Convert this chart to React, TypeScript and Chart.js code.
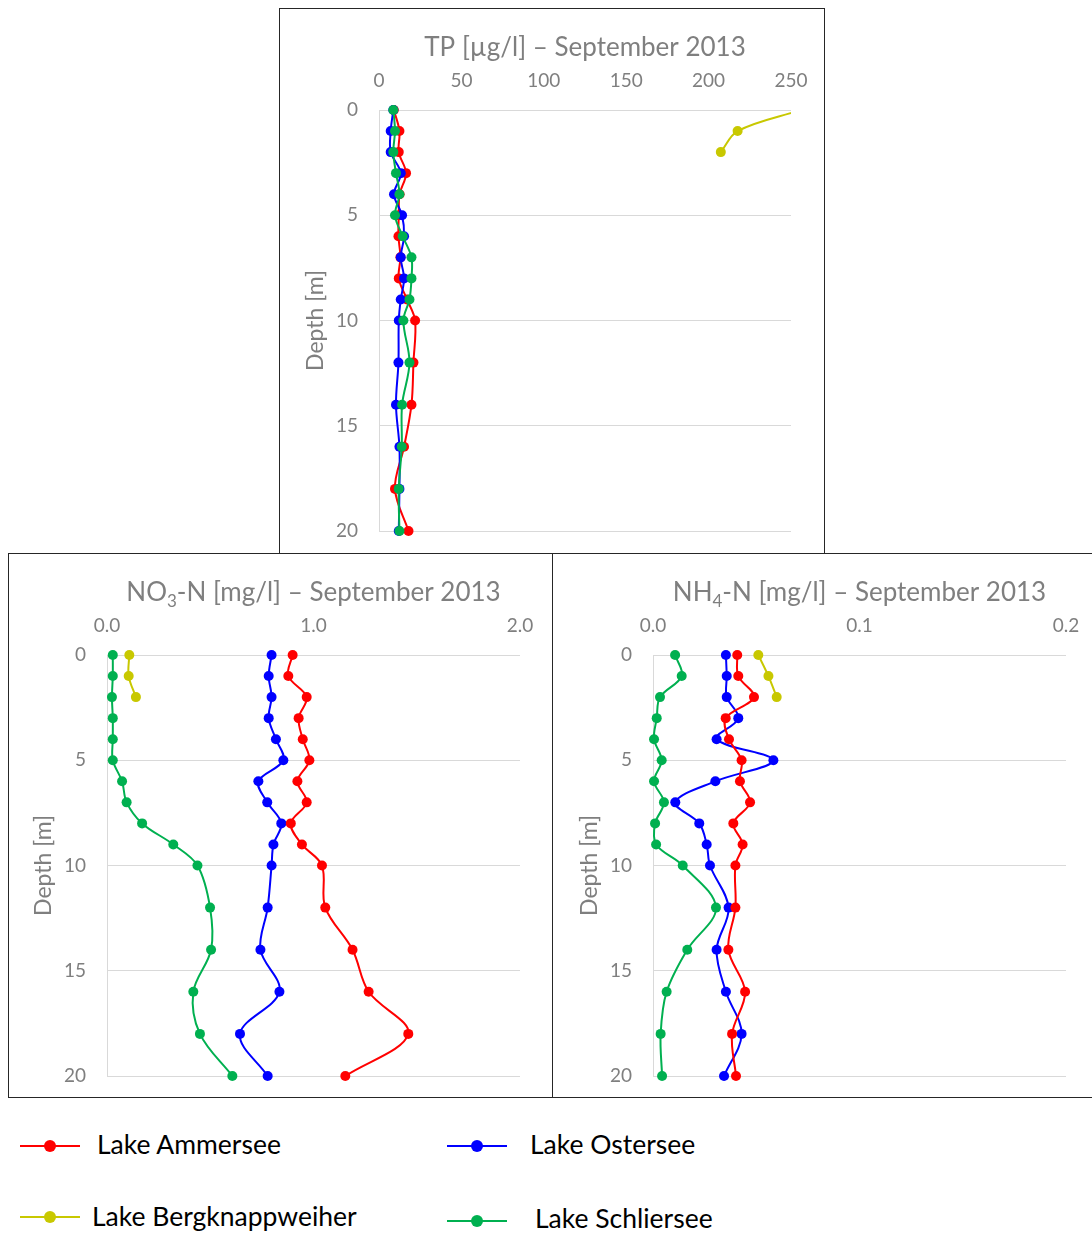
import React, { useEffect, useLayoutEffect, useRef } from "react";
import { Chart, registerables } from "chart.js";

Chart.register(...registerables);

// Sampling depths [m]
const depths = [0, 1, 2, 3, 4, 5, 6, 7, 8, 9, 10, 12, 14, 16, 18, 20];
const bergDepths = [0, 1, 2];

// Total phosphorus [µg/l]
const tpAmmersee = [9, 12.4, 12, 16.4, 12.5, 12, 11.8, 13, 12, 17, 21.9, 20.9, 19.7, 15.2, 9.7, 17.9];
const tpOstersee = [8.7, 7.1, 7.1, 13.2, 9.1, 14, 15.2, 13.2, 15.2, 13.2, 12, 11.8, 10.3, 12.4, 12.4, 12];
const tpSchliersee = [8.7, 9.7, 8.7, 10.3, 12.4, 9.7, 14.4, 19.7, 19.7, 18.5, 14.8, 18.5, 14, 13.8, 12, 12.4];
const tpBergknappweiher = [256, 217.6, 207.4];

// Nitrate nitrogen [mg/l]
const no3Ammersee = [0.899, 0.878, 0.967, 0.928, 0.948, 0.98, 0.922, 0.967, 0.89, 0.944, 1.041, 1.057, 1.189, 1.267, 1.459, 1.154];
const no3Ostersee = [0.797, 0.783, 0.797, 0.783, 0.818, 0.854, 0.733, 0.776, 0.844, 0.806, 0.797, 0.778, 0.743, 0.835, 0.644, 0.778];
const no3Schliersee = [0.028, 0.028, 0.024, 0.028, 0.028, 0.028, 0.073, 0.095, 0.17, 0.321, 0.438, 0.499, 0.504, 0.418, 0.45, 0.607];
const no3Bergknappweiher = [0.108, 0.105, 0.14];

// Ammonium nitrogen [mg/l]
const nh4Ammersee = [0.0408, 0.0413, 0.0489, 0.0352, 0.0368, 0.0429, 0.0421, 0.047, 0.0389, 0.0434, 0.0399, 0.0399, 0.0365, 0.0446, 0.0383, 0.0402];
const nh4Ostersee = [0.0353, 0.0357, 0.0357, 0.0413, 0.0308, 0.0583, 0.0302, 0.0108, 0.0224, 0.026, 0.0276, 0.0366, 0.0308, 0.0353, 0.0429, 0.0344];
const nh4Schliersee = [0.0107, 0.0139, 0.0034, 0.0018, 0.0005, 0.0042, 0.0005, 0.0053, 0.001, 0.0015, 0.0144, 0.0305, 0.0166, 0.0066, 0.0037, 0.0044];
const nh4Bergknappweiher = [0.051, 0.0559, 0.0599];

const lakeNames = ["Lake Ammersee", "Lake Ostersee", "Lake Bergknappweiher", "Lake Schliersee"];
const lakeColors = ["#ff0000", "#0000ff", "#c8c800", "#00b050"];

const FONT = "Lato, 'Open Sans', sans-serif";
const GREY = "#7f7f7f";

type Seg = { t: string; sub?: boolean };

function profile(values: number[], z: number[]) {
  return values.map((v, i) => ({ x: v, y: z[i] }));
}

function series(idx: number, values: number[], z: number[]) {
  const c = lakeColors[idx];
  return {
    label: lakeNames[idx],
    data: profile(values, z),
    showLine: true,
    borderColor: c,
    backgroundColor: c,
    pointBackgroundColor: c,
    pointBorderColor: c,
    pointRadius: 5,
    pointBorderWidth: 0,
    borderWidth: 2,
    tension: 0.35,
    clip: { left: 10, top: 10, right: 0, bottom: 10 },
  };
}

function titlePlugin(segs: Seg[]) {
  return {
    id: "panelText",
    afterDraw(chart: any) {
      const { ctx, chartArea } = chart;
      ctx.save();
      ctx.fillStyle = GREY;
      ctx.textBaseline = "alphabetic";
      const big = `26px ${FONT}`;
      const small = `17px ${FONT}`;
      let total = 0;
      for (const s of segs) {
        ctx.font = s.sub ? small : big;
        total += ctx.measureText(s.t).width;
      }
      let x = (chartArea.left + chartArea.right) / 2 - total / 2;
      const base = chartArea.top - 54;
      for (const s of segs) {
        ctx.font = s.sub ? small : big;
        ctx.textAlign = "left";
        ctx.fillText(s.t, x, s.sub ? base + 6 : base);
        x += ctx.measureText(s.t).width;
      }
      // vertical axis title
      ctx.font = `23px ${FONT}`;
      ctx.textAlign = "center";
      ctx.textBaseline = "middle";
      ctx.translate(chartArea.left - 63, (chartArea.top + chartArea.bottom) / 2);
      ctx.rotate(-Math.PI / 2);
      ctx.fillText("Depth [m]", 0, 0);
      ctx.restore();
    },
  };
}

type PanelProps = {
  w: number;
  h: number;
  datasets: any[];
  xMax: number;
  xStep: number;
  decimals: number;
  padLeft: number;
  padRight: number;
  padBottom: number;
  title: Seg[];
};

function Panel(p: PanelProps) {
  const ref = useRef<HTMLCanvasElement>(null);
  useEffect(() => {
    const chart = new Chart(ref.current as HTMLCanvasElement, {
      type: "scatter",
      data: { datasets: p.datasets },
      options: {
        animation: false,
        responsive: false,
        events: [],
        layout: { padding: { left: p.padLeft, right: p.padRight, top: 31, bottom: p.padBottom } },
        plugins: { legend: { display: false }, tooltip: { enabled: false }, title: { display: false } },
        scales: {
          x: {
            type: "linear",
            position: "top",
            min: 0,
            max: p.xMax,
            afterFit: (s: any) => { s.height = 70; },
            ticks: {
              stepSize: p.xStep,
              padding: 10,
              color: GREY,
              font: { family: FONT, size: 19 },
              callback: (v: any) => Number(v).toFixed(p.decimals),
            },
            grid: { display: false },
            border: { display: false },
          },
          y: {
            type: "linear",
            reverse: true,
            min: 0,
            max: 20,
            afterFit: (s: any) => {
              s.width = 60;
              s.paddingTop = 0;
              s.paddingBottom = 0;
            },
            ticks: {
              stepSize: 5,
              padding: 21,
              color: GREY,
              font: { family: FONT, size: 19 },
            },
            grid: { color: "#d9d9d9", lineWidth: 1, drawTicks: false },
            border: { display: true, color: "#d9d9d9", width: 1 },
          },
        },
      },
      plugins: [titlePlugin(p.title)],
    } as any);
    return () => chart.destroy();
  }, []);
  return <canvas ref={ref} width={p.w} height={p.h} style={{ display: "block", width: p.w, height: p.h }} />;
}

const boxStyle = (left: number, top: number, width: number, height: number): React.CSSProperties => ({
  position: "absolute",
  left,
  top,
  width,
  height,
  border: "1px solid #262626",
  boxSizing: "border-box",
  background: "#fff",
});

const legendItems = [
  { idx: 0, lineX: 20, lineY: 1146, textX: 97, textY: 1144 },
  { idx: 1, lineX: 447, lineY: 1146, textX: 530, textY: 1144 },
  { idx: 2, lineX: 20, lineY: 1217, textX: 92, textY: 1216 },
  { idx: 3, lineX: 447, lineY: 1221, textX: 535, textY: 1218 },
];

export default function App() {
  useLayoutEffect(() => {
    document.body.style.margin = "0";
    document.documentElement.style.overflow = "hidden";
    document.body.style.overflow = "hidden";
  }, []);
  return (
    <div style={{ position: "relative", width: 1092, height: 1233, overflow: "hidden", fontFamily: FONT, background: "#fff" }}>
      <div style={boxStyle(279, 8, 546, 546)}>
        <Panel
          w={544}
          h={544}
          xMax={250}
          xStep={50}
          decimals={0}
          padLeft={39}
          padRight={33}
          padBottom={22}
          title={[{ t: "TP [µg/l] – September 2013" }]}
          datasets={[
            series(3, tpSchliersee, depths),
            series(1, tpOstersee, depths),
            series(0, tpAmmersee, depths),
            series(2, tpBergknappweiher, bergDepths),
          ]}
        />
      </div>
      <div style={boxStyle(8, 553, 545, 545)}>
        <Panel
          w={543}
          h={543}
          xMax={2}
          xStep={1}
          decimals={1}
          padLeft={38}
          padRight={32}
          padBottom={21}
          title={[{ t: "NO" }, { t: "3", sub: true }, { t: "-N [mg/l] – September 2013" }]}
          datasets={[
            series(0, no3Ammersee, depths),
            series(1, no3Ostersee, depths),
            series(2, no3Bergknappweiher, bergDepths),
            series(3, no3Schliersee, depths),
          ]}
        />
      </div>
      <div style={{ position: "absolute", left: 552, top: 553, width: 540, height: 545, overflow: "hidden" }}>
        <div style={boxStyle(0, 0, 546, 545)}>
          <Panel
            w={544}
            h={543}
            xMax={0.2}
            xStep={0.1}
            decimals={1}
            padLeft={40}
            padRight={31}
            padBottom={21}
            title={[{ t: "NH" }, { t: "4", sub: true }, { t: "-N [mg/l] – September 2013" }]}
            datasets={[
              series(2, nh4Bergknappweiher, bergDepths),
              series(0, nh4Ammersee, depths),
              series(1, nh4Ostersee, depths),
              series(3, nh4Schliersee, depths),
            ]}
          />
        </div>
      </div>
      {legendItems.map((it) => (
        <React.Fragment key={it.idx}>
          <div
            style={{
              position: "absolute",
              left: it.lineX,
              top: it.lineY - 1,
              width: 60,
              height: 2,
              background: lakeColors[it.idx],
            }}
          />
          <div
            style={{
              position: "absolute",
              left: it.lineX + 24,
              top: it.lineY - 6,
              width: 12,
              height: 12,
              borderRadius: "50%",
              background: lakeColors[it.idx],
            }}
          />
          <div
            style={{
              position: "absolute",
              left: it.textX,
              top: it.textY - 13,
              height: 26,
              lineHeight: "26px",
              fontSize: 26.5,
              color: "#000",
              whiteSpace: "nowrap",
            }}
          >
            {lakeNames[it.idx]}
          </div>
        </React.Fragment>
      ))}
    </div>
  );
}
